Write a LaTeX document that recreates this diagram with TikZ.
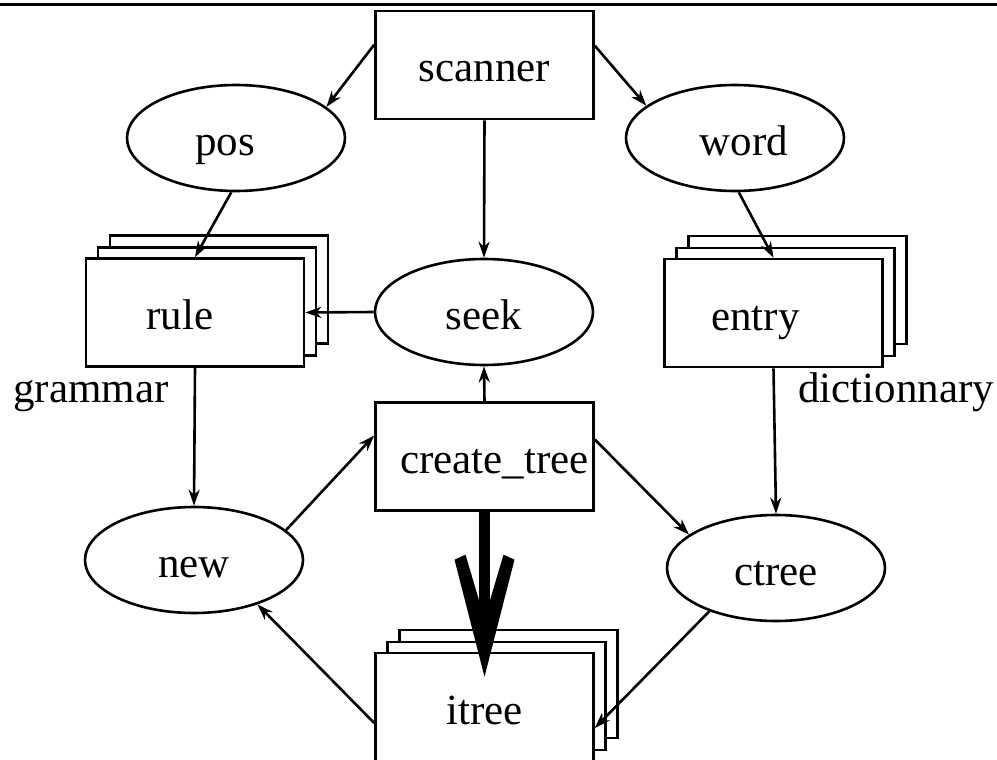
\documentclass[tikz,border=0pt]{standalone}
\usepackage{fontspec}
\setmainfont{Liberation Serif}
\usetikzlibrary{arrows.meta,shapes.geometric,shadows,calc}
\begin{document}
\begin{tikzpicture}[x=1pt,y=-1pt,line width=2.6pt,
  every node/.style={font=\fontsize{43}{50}\selectfont, text height=34pt, text depth=0pt, inner sep=0pt},
  box/.style={draw, rectangle, minimum width=218pt, minimum height=108pt, fill=white},
  stackbox/.style={box,
    general shadow={shadow xshift=24pt, shadow yshift=23pt, draw, fill=white},
    general shadow={shadow xshift=12pt, shadow yshift=11pt, draw, fill=white}},
  oval/.style={draw, ellipse, minimum width=218pt, minimum height=106pt, fill=white},
  lbl/.style={anchor=base west},
  arr/.style={-{Stealth[length=16pt,width=11pt,inset=5pt]}}
]
\useasboundingbox (0,0) rectangle (997,760);
\draw[line width=3pt] (0,4.5) -- (997,4.5);

\node[box] (scanner) at (484.5,65) {scanner};
\node[oval] (pos) at (236,138) {\kern-22pt pos};
\node[oval] (word) at (735,138) {word\kern-18pt};
\node[stackbox] (rule) at (195,312.5) {\kern-30pt rule};
\node[oval] (seek) at (484,312) {seek};
\node[stackbox] (entry) at (773.5,313) {\kern-36pt entry};
\node[box] (create) at (484.5,456.5) {create\_tree\kern-20pt};
\node[oval] (new) at (194,560) {new};
\node[oval] (ctree) at (776,568) {ctree};
\node[stackbox] (itree) at (484.5,707) {itree};

\node[lbl] (gram) at (12,402) {grammar};
\node[lbl] (dict) at (797,402) {dictionnary};

\draw[arr] ($(scanner.north west)+(0,35)$) -- (pos.19);
\draw[arr] ($(scanner.north east)+(0,36)$) -- (word.160);
\draw[arr] (scanner.south) -- (seek.north);
\draw[arr] (pos.-95) -- (rule.north);
\draw[arr] (word.-86) -- (entry.north);
\draw[arr] (seek.west) -- (rule.east);
\draw[arr] (create.north) -- (seek.south);
\draw[arr] (rule.south) -- (new.north);
\draw[arr] (entry.south) -- (ctree.north);
\draw[arr] (new.18) -- ($(create.west)+(0,-21)$);
\draw[arr] ($(create.east)+(0,-17)$) -- (ctree.159);
\draw[arr] ($(itree.west)+(0,16)$) -- (new.-35);
\draw[arr] (ctree.-147) -- ($(itree.east)+(0,21)$);

% thick arrow create_tree -> itree
\coordinate (tip) at ($(itree.north)+(0,25)$);
\draw[line width=11pt] (create.south) -- ($(tip)+(0,-58)$);
\fill (tip) -- ++(-30,-117) -- ++(11,-5) -- ($(tip)+(0,-58)$) -- ($(tip)+(19,-122)$) -- ++(11,5) -- cycle;
\end{tikzpicture}
\end{document}
